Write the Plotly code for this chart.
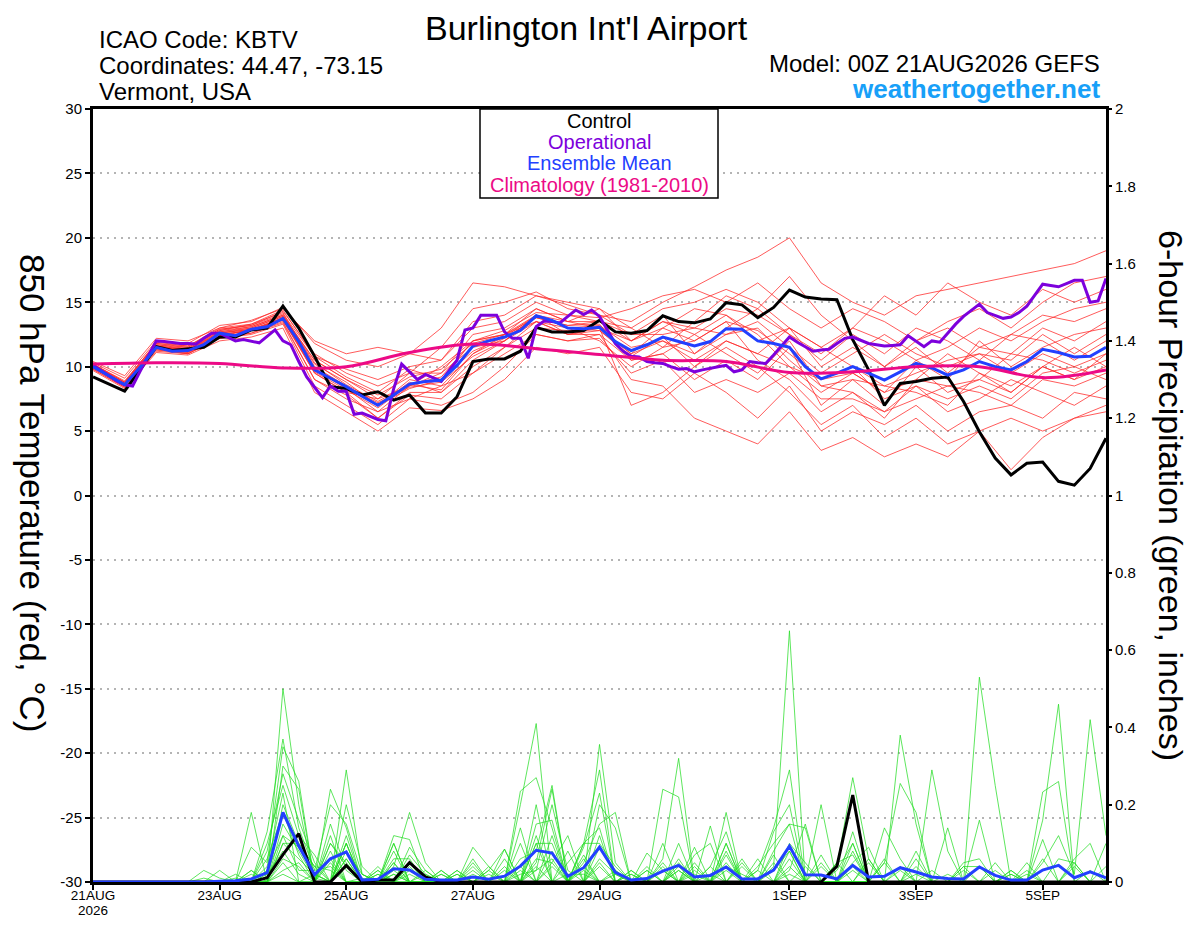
import pandas as pd
import plotly.graph_objects as go

start = pd.Timestamp('2026-08-21 00:00')
t6 = pd.date_range(start, periods=65, freq='6h')
t3 = pd.date_range(start, periods=129, freq='3h')
t12 = pd.date_range(start, periods=33, freq='12h')
t24 = pd.date_range(start, periods=17, freq='24h')

control_t = [9.2, 8.65, 8.1, 9.8, 11.55, 11.25, 11.35, 11.5, 12.3, 12.3,
             12.85, 13.0, 14.7, 13.0, 10.8, 8.45, 8.3, 7.8, 8.05, 7.4,
             7.8, 6.4, 6.4, 7.67, 10.4, 10.6, 10.6, 11.2, 13.05, 12.7,
             12.7, 12.8, 13.6, 12.7, 12.6, 12.8, 13.95, 13.5, 13.4, 13.7,
             14.97, 14.8, 13.8, 14.6, 15.95, 15.4, 15.25, 15.2, 12.1, 9.75,
             7.0, 8.7, 8.85, 9.1, 9.2, 7.3, 4.95, 2.9, 1.6, 2.5,
             2.6, 1.1, 0.8, 2.1, 4.45]

operational_t = [10.1, 9.7, 9.3, 8.9, 8.6, 8.5, 9.7, 10.9,
                 12.0, 11.95, 11.85, 11.8, 11.8, 11.75, 12.2, 12.6,
                 12.6, 12.3, 12.0, 12.1, 12.0, 11.85, 12.35, 12.85,
                 12.0, 11.7, 10.4, 9.2, 8.4, 7.6, 8.5, 8.1,
                 8.1, 6.3, 6.4, 6.15, 5.9, 5.8, 8.3, 10.2,
                 9.6, 9.0, 9.4, 9.15, 8.85, 9.7, 10.5, 12.85,
                 13.0, 14.0, 14.0, 14.0, 12.7, 12.2, 12.2, 10.65,
                 13.1, 13.55, 13.5, 13.4, 13.9, 14.4, 14.05, 14.4,
                 13.9, 12.8, 11.8, 11.2, 10.8, 10.75, 10.4, 10.3,
                 10.25, 10.0, 9.8, 9.85, 9.6, 9.75, 9.9, 10.0,
                 10.1, 9.6, 9.75, 10.4, 10.3, 10.25, 10.9, 11.6,
                 12.3, 11.9, 11.55, 11.2, 11.3, 11.35, 11.8, 12.2,
                 12.3, 12.05, 11.8, 11.7, 11.6, 11.65, 11.7, 12.4,
                 12.0, 11.55, 12.0, 11.9, 12.6, 13.3, 13.9, 14.4,
                 14.85, 14.2, 14.0, 13.75, 13.85, 14.2, 14.7, 15.6,
                 16.4, 16.3, 16.2, 16.45, 16.7, 16.7, 15.0, 15.1,
                 16.85]

mean_t = [10.0, 9.3, 8.6, 10.0, 11.5, 11.2, 11.25, 11.7, 12.6, 12.4,
          12.9, 13.1, 13.75, 11.95, 9.75, 9.1, 8.45, 7.7, 7.0, 7.8,
          8.65, 8.85, 8.95, 10.1, 11.6, 12.0, 12.3, 12.8, 13.95, 13.6,
          13.0, 12.95, 13.05, 11.95, 11.25, 11.7, 12.3, 11.95, 11.6, 11.95,
          12.95, 12.9, 12.0, 11.8, 11.5, 10.0, 9.05, 9.5, 10.0, 9.5,
          8.95, 9.6, 10.25, 9.9, 9.35, 9.75, 10.4, 10.0, 9.75, 10.4,
          11.35, 11.1, 10.75, 10.8, 11.5]

climatology_t = [10.2, 10.3, 10.25, 9.9, 10.0, 11.1, 11.75, 11.4, 10.95,
                 10.5, 10.4, 9.55, 9.6, 10.0, 10.0, 9.15, 9.75]

# ensemble members, 850 hPa temperature every 12 h
members_t = [
    [10.2, 8.9, 11.8, 11.6, 12.9, 13.2, 14.3, 11.0, 9.5, 8.5, 9.5, 11.5, 14.5, 15.0, 15.8, 14.5, 14.0,
     13.5, 15.0, 16.2, 17.5, 18.5, 20.0, 16.5, 15.0, 14.0, 15.5, 16.0, 16.5, 17.0, 17.5, 18.0, 19.0],
    [9.8, 8.4, 11.2, 11.0, 12.2, 12.5, 13.3, 8.5, 7.0, 5.5, 7.5, 7.0, 8.0, 10.0, 12.5, 12.0, 12.5,
     9.0, 8.5, 6.0, 5.0, 4.0, 6.5, 3.5, 4.5, 3.0, 4.0, 3.0, 5.0, 2.0, 4.5, 6.0, 7.0],
    [10.0, 8.7, 11.6, 11.3, 12.7, 13.0, 13.9, 10.5, 9.0, 7.5, 8.5, 9.5, 12.5, 13.0, 14.5, 13.5, 13.5,
     12.0, 13.5, 12.5, 14.0, 12.5, 10.0, 8.0, 9.5, 8.0, 10.5, 9.0, 12.0, 10.0, 11.5, 12.5, 13.0],
    [10.3, 9.1, 12.0, 11.8, 13.2, 13.5, 14.6, 11.8, 10.5, 10.0, 11.0, 13.0, 16.5, 16.2, 15.5, 15.0, 14.5,
     13.0, 11.5, 12.0, 13.5, 10.5, 9.0, 6.5, 8.0, 6.0, 9.0, 11.0, 9.5, 8.0, 10.0, 9.0, 11.0],
    [9.9, 8.5, 11.4, 11.0, 12.4, 12.8, 13.6, 9.5, 8.0, 6.0, 8.0, 8.0, 10.5, 12.0, 14.0, 13.0, 12.0,
     10.0, 11.5, 13.5, 15.5, 14.5, 12.5, 10.5, 12.5, 11.0, 13.0, 12.0, 10.5, 12.5, 14.0, 13.5, 14.5],
    [10.1, 8.8, 11.7, 11.5, 12.8, 13.3, 14.2, 10.0, 8.5, 7.0, 9.0, 8.5, 11.0, 12.5, 13.5, 12.5, 13.0,
     11.0, 12.0, 10.5, 12.0, 11.0, 13.0, 11.5, 10.0, 7.5, 8.5, 6.5, 7.5, 9.0, 8.0, 7.0, 8.5],
    [9.7, 8.3, 11.1, 10.9, 12.0, 12.3, 13.0, 8.0, 6.5, 5.0, 6.8, 6.6, 7.5, 9.0, 11.5, 11.0, 11.5,
     8.0, 7.5, 9.5, 8.0, 6.0, 8.5, 5.0, 6.5, 5.5, 7.0, 5.0, 6.5, 7.0, 6.0, 8.0, 7.5],
    [10.0, 8.6, 11.5, 11.2, 12.5, 12.8, 13.8, 9.8, 8.3, 6.5, 8.5, 10.0, 12.0, 12.8, 14.2, 14.0, 13.8,
     14.5, 15.5, 16.0, 15.0, 16.5, 14.5, 13.0, 14.5, 13.5, 12.0, 13.5, 14.5, 13.0, 15.0, 16.5, 17.0],
    [10.4, 9.3, 12.2, 12.0, 13.0, 13.6, 14.5, 12.0, 11.0, 11.5, 11.0, 10.5, 13.5, 14.0, 15.5, 14.8, 14.0,
     12.5, 14.0, 11.0, 13.0, 14.5, 17.0, 14.0, 12.0, 10.0, 11.5, 9.5, 11.5, 12.5, 12.0, 10.5, 12.0],
    [9.8, 8.4, 11.3, 11.1, 12.3, 12.6, 13.5, 9.0, 7.5, 6.5, 7.5, 8.5, 9.5, 11.5, 13.5, 12.5, 12.5,
     10.5, 11.0, 9.0, 10.5, 9.0, 11.5, 7.0, 9.0, 8.5, 8.0, 7.0, 9.5, 8.5, 10.0, 11.5, 10.0],
    [10.2, 8.8, 11.9, 11.6, 13.0, 13.3, 14.4, 10.8, 9.2, 8.0, 9.8, 9.0, 12.0, 12.5, 13.8, 13.2, 13.5,
     12.5, 12.5, 13.0, 12.5, 13.5, 11.5, 9.5, 11.0, 12.5, 11.0, 10.0, 11.0, 10.5, 12.5, 11.0, 12.5],
    [10.0, 8.6, 11.6, 11.3, 12.6, 13.0, 13.9, 10.2, 8.8, 7.0, 8.8, 8.0, 10.0, 11.5, 13.0, 12.8, 13.0,
     7.0, 8.0, 10.0, 11.5, 10.0, 8.0, 5.5, 7.0, 4.5, 6.0, 4.0, 5.0, 6.0, 5.0, 6.0, 6.5],
    [9.9, 8.6, 11.4, 11.1, 12.5, 12.8, 13.7, 9.5, 8.0, 7.5, 9.5, 9.5, 11.5, 12.0, 14.0, 13.5, 14.5,
     12.0, 13.0, 14.5, 14.0, 12.0, 13.0, 10.0, 11.5, 10.0, 12.0, 13.0, 11.5, 11.0, 13.0, 12.0, 13.5],
    [10.1, 8.7, 11.6, 11.4, 12.7, 13.1, 14.0, 10.5, 9.0, 7.8, 9.2, 9.8, 11.8, 12.5, 14.0, 13.0, 12.8,
     11.0, 13.0, 12.0, 13.5, 12.8, 11.0, 9.0, 10.0, 8.5, 9.5, 10.5, 11.0, 9.5, 11.0, 10.0, 11.0],
    [10.0, 8.6, 11.3, 11.0, 12.2, 12.6, 13.4, 9.0, 7.8, 6.0, 7.8, 7.5, 9.5, 11.0, 12.5, 12.0, 12.2,
     9.5, 10.5, 8.0, 9.0, 8.0, 9.5, 7.5, 7.5, 6.5, 7.5, 8.5, 8.0, 7.0, 9.0, 8.5, 9.5],
    [10.2, 8.8, 11.8, 11.5, 12.9, 13.2, 14.1, 10.8, 9.8, 9.0, 10.0, 10.5, 13.0, 13.5, 15.0, 14.0, 13.5,
     13.0, 14.5, 15.0, 16.0, 15.0, 13.0, 11.5, 13.0, 15.5, 14.0, 16.5, 15.0, 14.0, 16.0, 15.0, 16.0],
    [9.9, 8.5, 11.4, 11.2, 12.4, 12.9, 13.6, 9.7, 8.4, 7.2, 8.4, 8.8, 10.8, 12.0, 13.5, 13.0, 13.2,
     11.5, 12.0, 11.0, 12.5, 13.0, 10.5, 8.5, 9.0, 7.0, 10.0, 8.0, 9.0, 11.0, 10.5, 9.5, 10.5],
    [10.1, 8.7, 11.7, 11.4, 12.8, 13.1, 14.0, 10.3, 8.6, 7.3, 8.6, 8.2, 11.0, 12.2, 13.8, 13.2, 13.3,
     10.5, 11.0, 12.5, 11.0, 9.5, 12.0, 8.5, 8.0, 6.5, 8.5, 7.5, 8.5, 7.5, 9.5, 10.0, 9.0],
    [10.0, 8.6, 11.5, 11.3, 12.6, 12.9, 13.8, 9.6, 8.2, 6.8, 8.6, 9.2, 12.0, 12.5, 14.5, 13.5, 13.0,
     12.0, 13.5, 13.0, 14.5, 14.0, 12.5, 11.0, 13.0, 12.0, 10.5, 11.5, 13.0, 12.0, 13.5, 14.5, 15.0],
    [10.0, 8.6, 11.5, 11.2, 12.6, 12.9, 13.7, 9.9, 8.5, 7.0, 8.3, 9.0, 11.2, 12.3, 14.0, 12.5, 12.8,
     10.8, 12.3, 10.0, 12.0, 11.0, 10.0, 9.0, 9.5, 8.0, 9.0, 8.5, 9.0, 8.0, 10.0, 9.0, 10.0],
]

# 6-hour precipitation (inches): control and ensemble mean
control_p = {11: 0.011, 12: 0.071, 13: 0.125, 16: 0.043, 18: 0.005, 19: 0.005,
             20: 0.05, 21: 0.013, 47: 0.041, 48: 0.225}

mean_p = [0, 0, 0, 0, 0, 0, 0, 0, 0.002, 0.003,
          0.008, 0.024, 0.18, 0.093, 0.019, 0.06, 0.078, 0.005, 0.007, 0.034,
          0.031, 0.007, 0.005, 0.005, 0.013, 0.007, 0.015, 0.041, 0.082, 0.075,
          0.015, 0.037, 0.09, 0.025, 0.005, 0.009, 0.028, 0.043, 0.013, 0.017,
          0.039, 0.008, 0.008, 0.031, 0.093, 0.019, 0.018, 0.008, 0.043, 0.013,
          0.015, 0.037, 0.026, 0.013, 0.009, 0.008, 0.039, 0.017, 0.005, 0.005,
          0.031, 0.043, 0.011, 0.026, 0.011]

# member precipitation: 6-h step index -> inches (steps not listed are dry)
members_p = [
    {10: 0.09, 11: 0.05, 12: 0.35, 13: 0.26, 15: 0.1, 16: 0.05, 18: 0.02, 20: 0.03, 24: 0.02, 27: 0.235,
     28: 0.27, 29: 0.14, 35: 0.03, 38: 0.02, 41: 0.05, 43: 0.03, 44: 0.08, 47: 0.05, 48: 0.07, 51: 0.04,
     57: 0.03, 64: 0.1},
    {9: 0.02, 11: 0.1, 12: 0.25, 13: 0.12, 14: 0.07, 16: 0.1, 19: 0.06, 20: 0.06, 24: 0.09, 25: 0.04,
     28: 0.04, 31: 0.1, 32: 0.1, 33: 0.04, 36: 0.06, 37: 0.32, 40: 0.03, 44: 0.02, 50: 0.05, 51: 0.255,
     52: 0.18, 58: 0.02, 62: 0.05},
    {7: 0.03, 8: 0.01, 12: 0.12, 13: 0.03, 14: 0.03, 15: 0.2, 16: 0.15, 17: 0.02, 23: 0.02, 26: 0.06,
     28: 0.1, 29: 0.1, 32: 0.356, 33: 0.05, 38: 0.04, 42: 0.03, 43: 0.14, 44: 0.29, 48: 0.04, 52: 0.04,
     58: 0.02, 60: 0.11},
    {10: 0.03, 12: 0.5, 13: 0.2, 15: 0.06, 19: 0.1, 22: 0.03, 27: 0.06, 28: 0.08, 29: 0.25, 34: 0.03,
     37: 0.04, 39: 0.04, 40: 0.13, 46: 0.07, 49: 0.06, 55: 0.05, 56: 0.06},
    {8: 0.03, 12: 0.1, 13: 0.06, 14: 0.02, 16: 0.06, 18: 0.04, 20: 0.09, 21: 0.03, 27: 0.14, 30: 0.05,
     31: 0.1, 32: 0.14, 38: 0.09, 43: 0.08, 44: 0.15, 45: 0.14, 51: 0.03, 59: 0.03, 62: 0.06, 63: 0.1},
    {11: 0.08, 12: 0.28, 13: 0.16, 14: 0.05, 16: 0.29, 17: 0.02, 20: 0.02, 23: 0.03, 25: 0.03, 28: 0.03,
     29: 0.06, 31: 0.04, 35: 0.075, 36: 0.03, 39: 0.04, 44: 0.08, 48: 0.13, 53: 0.29, 54: 0.08},
    {10: 0.18, 12: 0.02, 15: 0.15, 16: 0.03, 19: 0.05, 21: 0.02, 26: 0.04, 28: 0.2, 32: 0.09, 33: 0.03,
     38: 0.03, 40: 0.18, 45: 0.04, 52: 0.06, 57: 0.05, 60: 0.06},
    {7: 0.01, 12: 0.15, 13: 0.08, 14: 0.01, 16: 0.08, 17: 0.02, 19: 0.1, 22: 0.02, 24: 0.04, 29: 0.12,
     31: 0.06, 34: 0.02, 36: 0.1, 39: 0.02, 41: 0.04, 43: 0.07, 47: 0.04, 48: 0.27, 49: 0.06, 58: 0.03},
    {11: 0.13, 12: 0.37, 13: 0.14, 14: 0.03, 15: 0.04, 18: 0.02, 20: 0.05, 25: 0.03, 26: 0.085, 28: 0.06,
     29: 0.05, 31: 0.1, 32: 0.29, 37: 0.1, 40: 0.07, 43: 0.04, 44: 0.65, 50: 0.06, 55: 0.04, 56: 0.04,
     63: 0.03},
    {11: 0.02, 12: 0.08, 13: 0.02, 15: 0.24, 16: 0.14, 19: 0.02, 24: 0.06, 27: 0.1, 30: 0.02, 31: 0.02,
     33: 0.03, 37: 0.06, 42: 0.06, 46: 0.04, 48: 0.1, 51: 0.38, 52: 0.15, 62: 0.04},
    {9: 0.01, 12: 0.2, 13: 0.1, 14: 0.04, 15: 0.03, 19: 0.12, 20: 0.11, 26: 0.03, 28: 0.15, 29: 0.16,
     32: 0.12, 34: 0.02, 36: 0.05, 40: 0.1, 44: 0.06, 47: 0.05, 54: 0.02, 56: 0.53, 57: 0.25},
    {10: 0.02, 12: 0.05, 14: 0.02, 16: 0.2, 17: 0.04, 23: 0.03, 27: 0.04, 29: 0.05, 30: 0.12, 33: 0.02,
     35: 0.04, 38: 0.07, 39: 0.1, 44: 0.1, 45: 0.05, 48: 0.08, 54: 0.14, 60: 0.233, 61: 0.26},
    {11: 0.06, 12: 0.18, 13: 0.07, 15: 0.12, 19: 0.04, 20: 0.18, 21: 0.05, 26: 0.085, 28: 0.1, 31: 0.09,
     32: 0.23, 37: 0.05, 40: 0.05, 43: 0.05, 46: 0.2, 53: 0.03, 59: 0.02, 64: 0.04},
    {12: 0.3, 13: 0.24, 16: 0.1, 18: 0.03, 22: 0.03, 25: 0.04, 28: 0.05, 29: 0.24, 32: 0.06, 33: 0.02,
     39: 0.145, 43: 0.13, 44: 0.2, 50: 0.14, 51: 0.06, 61: 0.06, 62: 0.05},
    {10: 0.03, 15: 0.08, 17: 0.01, 19: 0.05, 24: 0.05, 29: 0.04, 31: 0.03, 34: 0.03, 36: 0.24, 37: 0.22,
     42: 0.03, 48: 0.05, 49: 0.09, 58: 0.03},
    {12: 0.1, 13: 0.1, 14: 0.04, 16: 0.06, 19: 0.02, 21: 0.03, 27: 0.2, 28: 0.41, 31: 0.07, 37: 0.03,
     40: 0.04, 41: 0.02, 46: 0.05, 49: 0.05, 55: 0.04, 60: 0.05, 61: 0.12, 62: 0.02, 63: 0.42, 64: 0.12},
    {11: 0.04, 12: 0.23, 16: 0.12, 19: 0.08, 22: 0.02, 25: 0.02, 29: 0.08, 31: 0.05, 32: 0.15, 33: 0.18,
     36: 0.04, 40: 0.1, 44: 0.04, 50: 0.05, 52: 0.02, 56: 0.16},
    {12: 0.03, 13: 0.05, 15: 0.05, 18: 0.03, 20: 0.04, 24: 0.03, 27: 0.03, 30: 0.08, 32: 0.05, 35: 0.03,
     38: 0.05, 42: 0.04, 43: 0.1, 44: 0.15, 48: 0.03, 52: 0.08, 59: 0.05},
    {11: 0.03, 12: 0.12, 13: 0.09, 14: 0.02, 16: 0.1, 20: 0.07, 21: 0.02, 28: 0.12, 32: 0.2, 33: 0.14,
     37: 0.03, 41: 0.06, 47: 0.03, 48: 0.1, 55: 0.03, 60: 0.16, 61: 0.46},
    {12: 0.06, 13: 0.04, 15: 0.1, 16: 0.04, 19: 0.03, 23: 0.02, 27: 0.02, 28: 0.03, 29: 0.2, 30: 0.03,
     32: 0.04, 36: 0.03, 40: 0.08, 44: 0.03, 45: 0.15, 56: 0.04},
]

tick_dates = ['2026-08-21', '2026-08-23', '2026-08-25', '2026-08-27',
              '2026-08-29', '2026-09-01', '2026-09-03', '2026-09-05']
tick_text = ['21AUG', '23AUG', '25AUG', '27AUG', '29AUG', '1SEP', '3SEP', '5SEP']
year_label = '2026'
temp_ticks = list(range(-30, 31, 5))


def steps_to_series(steps):
    vals = [0.0] * len(t6)
    for k, v in steps.items():
        vals[k] = v
    return vals


FONT = 'Liberation Sans, Arial, sans-serif'
RED = 'rgba(255,40,40,0.85)'
GREEN = 'rgba(30,220,30,0.9)'
PURPLE = '#7d00dc'
BLUE = '#2240ff'
PINK = '#ec0a86'

fig = go.Figure()

for m in members_t:
    fig.add_trace(go.Scatter(x=t12, y=m, mode='lines',
                             line=dict(color=RED, width=0.9), hoverinfo='skip'))

for m in members_p:
    fig.add_trace(go.Scatter(x=t6, y=steps_to_series(m), mode='lines', yaxis='y2',
                             line=dict(color=GREEN, width=0.8), hoverinfo='skip'))

fig.add_trace(go.Scatter(x=t6, y=steps_to_series(control_p), mode='lines', yaxis='y2',
                         line=dict(color='black', width=3)))
fig.add_trace(go.Scatter(x=t6, y=mean_p, mode='lines', yaxis='y2',
                         line=dict(color=BLUE, width=3)))

fig.add_trace(go.Scatter(x=t6, y=control_t, mode='lines', line=dict(color='black', width=3)))
fig.add_trace(go.Scatter(x=t3, y=operational_t, mode='lines', line=dict(color=PURPLE, width=3)))
fig.add_trace(go.Scatter(x=t6, y=mean_t, mode='lines', line=dict(color=BLUE, width=3)))
fig.add_trace(go.Scatter(x=t24, y=climatology_t, mode='lines',
                         line=dict(color=PINK, width=3, shape='spline', smoothing=1.0)))

# the page body adds an 8px margin, so the figure is 16px smaller than the window
FW, FH, OFF = 1184, 911, 8
PL, PR, PT, PB = 93, 1106, 109, 882          # plot area edges in page pixels
L, T = PL - OFF, PT - OFF
R, B = OFF + FW - PR, OFF + FH - PB


def px(x):
    return (x - PL) / (PR - PL)


def py(y):
    return (PB - y) / (PB - PT)


fig.update_layout(
    width=FW, height=FH,
    margin=dict(l=L, r=R, t=T, b=B, autoexpand=False),
    paper_bgcolor='white', plot_bgcolor='white',
    showlegend=False,
    font=dict(family=FONT, color='black', size=14),
    xaxis=dict(
        type='date',
        range=['2026-08-21 00:00', '2026-09-06 00:00'],
        tickvals=tick_dates, ticktext=tick_text,
        ticks='outside', ticklen=5, tickwidth=1.5, tickcolor='black',
        ticklabelstandoff=-6,
        showline=True, linewidth=3, linecolor='black', mirror=True,
        showgrid=False, zeroline=False, automargin=False,
        tickfont=dict(size=13.5),
    ),
    yaxis=dict(
        range=[-30, 30],
        tickvals=temp_ticks, ticktext=[str(v) for v in temp_ticks],
        ticks='outside', ticklen=5, tickwidth=1.5, tickcolor='black',
        showline=True, linewidth=3, linecolor='black', mirror=True,
        showgrid=True, gridcolor='#b4b4b4', gridwidth=1.5, griddash='2px,5px',
        zeroline=False, automargin=False,
        tickfont=dict(size=15),
    ),
    yaxis2=dict(
        range=[0, 2], dtick=0.2, overlaying='y', side='right',
        ticks='outside', ticklen=5, tickwidth=1.5, tickcolor='black',
        showgrid=False, zeroline=False, showline=False, automargin=False,
        tickfont=dict(size=15),
    ),
)

# year under the first date tick
fig.add_annotation(text=year_label, xref='x', yref='paper', x=tick_dates[0], y=py(OFF + FH),
                   xanchor='center', yanchor='bottom', showarrow=False, borderpad=0,
                   font=dict(size=13.5, family=FONT))

# legend box
fig.add_shape(type='rect', xref='paper', yref='paper',
              x0=px(480), x1=px(718), y0=py(198), y1=1.0,
              line=dict(color='black', width=1.5), fillcolor='white', layer='above')

legend_items = [('Control', 'black', 121), ('Operational', PURPLE, 142),
                ('Ensemble Mean', BLUE, 163), ('Climatology (1981-2010)', PINK, 185)]
for text, color, ypix in legend_items:
    fig.add_annotation(text=text, xref='paper', yref='paper', x=px(599), y=py(ypix),
                       xanchor='center', yanchor='middle', showarrow=False,
                       font=dict(size=20, color=color, family=FONT))

# header text
fig.add_annotation(text="Burlington Int'l Airport", xref='paper', yref='paper',
                   x=px(586), y=py(OFF), xanchor='center', yanchor='top',
                   showarrow=False, borderpad=0, font=dict(size=34, family=FONT))
for text, ypix in [('ICAO Code: KBTV', 40), ('Coordinates: 44.47, -73.15', 66), ('Vermont, USA', 92)]:
    fig.add_annotation(text=text, xref='paper', yref='paper', x=px(97), y=py(ypix),
                       xanchor='left', yanchor='middle', showarrow=False,
                       font=dict(size=24, family=FONT))
fig.add_annotation(text='Model: 00Z 21AUG2026 GEFS', xref='paper', yref='paper',
                   x=px(1102), y=py(63), xanchor='right', yanchor='middle',
                   showarrow=False, font=dict(size=24, family=FONT))
fig.add_annotation(text='<b>weathertogether.net</b>', xref='paper', yref='paper',
                   x=px(1102), y=py(89), xanchor='right', yanchor='middle',
                   showarrow=False, font=dict(size=26, color='#18a0f8', family=FONT))

# axis titles, both read from top to bottom
fig.add_annotation(text='850 hPa Temperature (red, °C)', xref='paper', yref='paper',
                   x=px(32), y=py(493), xanchor='center', yanchor='middle', textangle=90,
                   showarrow=False, font=dict(size=35, family=FONT))
fig.add_annotation(text='6-hour Precipitation (green, inches)', xref='paper', yref='paper',
                   x=px(1171), y=py(495), xanchor='center', yanchor='middle', textangle=90,
                   showarrow=False, font=dict(size=34, family=FONT))

fig.write_html('out.html')
